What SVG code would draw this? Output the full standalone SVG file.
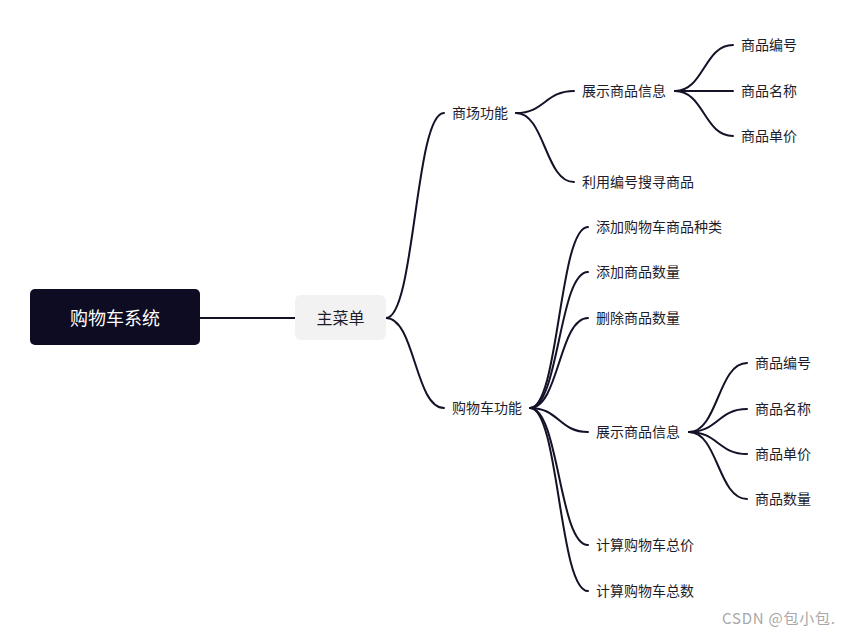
<svg xmlns="http://www.w3.org/2000/svg" width="849" height="635" viewBox="0 0 849 635">
<style>
.t{font-family:"Noto Sans CJK SC","Noto Sans",sans-serif;font-size:14px;fill:#1d1c2b;dominant-baseline:central}
.l{fill:none;stroke:#131228;stroke-width:2;stroke-linecap:round}
</style>
<rect width="849" height="635" fill="#ffffff"/>
<g id="connectors">
<path class="l" d="M200,318 L295,318"/>
<path class="l" d="M386,318 C415,318 415,113 444,113"/>
<path class="l" d="M386,318 C415,318 415,408 444,408"/>
<path class="l" d="M516,113 C545,113 545,91 574,91"/>
<path class="l" d="M516,113 C545,113 545,182 574,182"/>
<path class="l" d="M675,91 C704,91 704,45 733,45"/>
<path class="l" d="M675,91 L733,91"/>
<path class="l" d="M675,91 C704,91 704,136 733,136"/>
<path class="l" d="M530,408 C559,408 559,227 588,227"/>
<path class="l" d="M530,408 C559,408 559,272 588,272"/>
<path class="l" d="M530,408 C559,408 559,318 588,318"/>
<path class="l" d="M530,408 C559,408 559,432 588,432"/>
<path class="l" d="M530,408 C559,408 559,545 588,545"/>
<path class="l" d="M530,408 C559,408 559,591 588,591"/>
<path class="l" d="M689,432 C718,432 718,363 747,363"/>
<path class="l" d="M689,432 C718,432 718,409 747,409"/>
<path class="l" d="M689,432 C718,432 718,454 747,454"/>
<path class="l" d="M689,432 C718,432 718,499 747,499"/>
</g>
<g id="root">
<rect x="30" y="289" width="170" height="56" rx="5" fill="#0e0c22"/>
<text x="115" y="317" text-anchor="middle" style="font-family:'Noto Sans CJK SC',sans-serif;font-size:18px;fill:#ffffff;dominant-baseline:central">购物车系统</text>
</g>
<g id="menu">
<rect x="295" y="295" width="91" height="45" rx="6" fill="#f2f2f2"/>
<text x="340.5" y="317" text-anchor="middle" style="font-family:'Noto Sans CJK SC',sans-serif;font-size:16px;fill:#1d1c2b;dominant-baseline:central">主菜单</text>
</g>
<g id="mall"><text class="t" x="452" y="112">商场功能</text></g>
<g id="mall-show"><text class="t" x="582" y="90">展示商品信息</text></g>
<g id="mall-show-id"><text class="t" x="741" y="44">商品编号</text></g>
<g id="mall-show-name"><text class="t" x="741" y="90">商品名称</text></g>
<g id="mall-show-price"><text class="t" x="741" y="135">商品单价</text></g>
<g id="mall-search"><text class="t" x="582" y="181">利用编号搜寻商品</text></g>
<g id="cart"><text class="t" x="452" y="407">购物车功能</text></g>
<g id="cart-addtype"><text class="t" x="596" y="226">添加购物车商品种类</text></g>
<g id="cart-addqty"><text class="t" x="596" y="271">添加商品数量</text></g>
<g id="cart-delqty"><text class="t" x="596" y="317">删除商品数量</text></g>
<g id="cart-show"><text class="t" x="596" y="431">展示商品信息</text></g>
<g id="cart-show-id"><text class="t" x="755" y="362">商品编号</text></g>
<g id="cart-show-name"><text class="t" x="755" y="408">商品名称</text></g>
<g id="cart-show-price"><text class="t" x="755" y="453">商品单价</text></g>
<g id="cart-show-qty"><text class="t" x="755" y="498">商品数量</text></g>
<g id="cart-total"><text class="t" x="596" y="544">计算购物车总价</text></g>
<g id="cart-count"><text class="t" x="596" y="590">计算购物车总数</text></g>
<text x="722" y="617" textLength="113" style="font-family:'Noto Sans CJK SC',sans-serif;font-size:15px;fill:#a8a8a8;dominant-baseline:central">CSDN @包小包.</text>
</svg>
